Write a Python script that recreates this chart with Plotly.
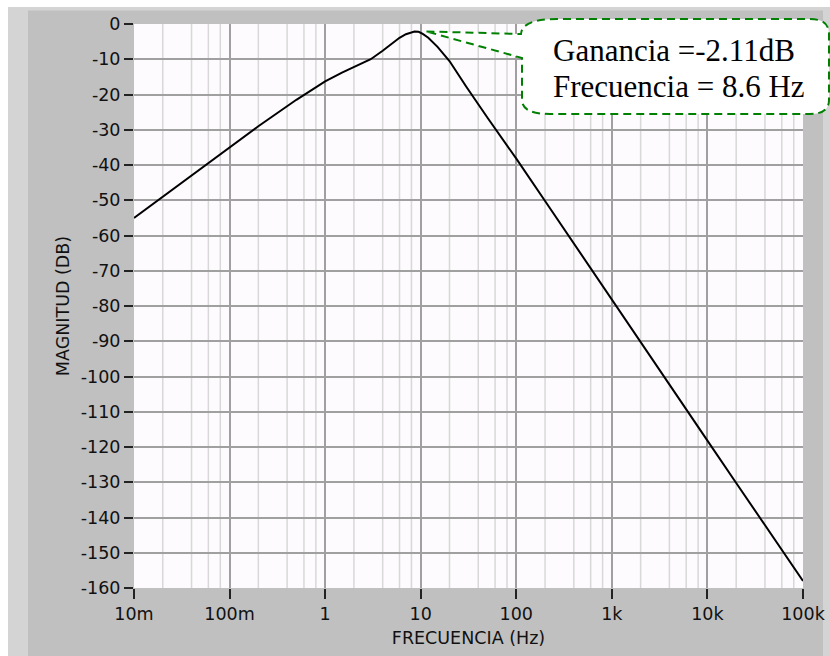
import math
import plotly.graph_objects as go

# ---- data ----
freq_hz = [0.01, 0.02, 0.05, 0.1, 0.2, 0.5, 1, 1.5, 2, 3,
           4, 5, 6, 7, 8, 8.6, 9.5, 10.5, 12, 15,
           20, 30, 50, 100, 200, 500, 1000, 2000, 5000, 10000,
           20000, 50000, 100000]
mag_db = [-55.0, -49.0, -41.0, -35.0, -29.0, -21.5, -16.3, -13.8, -12.2, -10.0,
          -7.6, -5.6, -3.9, -2.9, -2.25, -2.11, -2.2, -2.8, -3.9, -6.5,
          -10.5, -17.8, -26.6, -38.2, -50.2, -66.2, -78.2, -90.2, -106.2, -118.2,
          -130.2, -146.2, -158.0]

x_tick_vals = [0.01, 0.1, 1, 10, 100, 1000, 10000, 100000]
x_tick_text = ["10m", "100m", "1", "10", "100", "1k", "10k", "100k"]
y_tick_vals = [0, -10, -20, -30, -40, -50, -60, -70, -80, -90, -100,
               -110, -120, -130, -140, -150, -160]
y_tick_text = [str(v) for v in y_tick_vals]
minor_mults = [2, 4, 6, 8]

peak_freq = 8.6
peak_gain = -2.11

# ---- layout geometry ----
W, H = 830, 656
ML, MR, MT, MB = 134, 27, 24, 68
PW, PH = W - ML - MR, H - MT - MB
x_range = [math.log10(x_tick_vals[0]), math.log10(x_tick_vals[-1])]
y_range = [y_tick_vals[-1], y_tick_vals[0]]


def px(xp):
    return (xp - ML) / PW


def py(yp):
    return (H - MB - yp) / PH


def pt(xp, yp):
    return f"{px(xp):.5f},{py(yp):.5f}"


def xfrac(v):
    return (math.log10(v) - x_range[0]) / (x_range[1] - x_range[0])


minor_vals = [m * 10 ** e for e in range(-2, 5) for m in minor_mults]

fig = go.Figure()
fig.add_trace(go.Scatter(x=freq_hz, y=mag_db, mode="lines",
                         line=dict(color="black", width=2), showlegend=False))

font_ax = dict(family="DejaVu Sans", size=17.5, color="#111111")

fig.update_layout(
    width=W, height=H,
    margin=dict(l=ML, r=MR, t=MT, b=MB, autoexpand=False),
    paper_bgcolor="#c0c0c0",
    plot_bgcolor="#fdfbfd",
    showlegend=False,
    xaxis=dict(type="log", range=x_range, tickmode="array",
               tickvals=x_tick_vals, ticktext=x_tick_text,
               showgrid=True, gridcolor="#a0a0a0", gridwidth=1.5,
               ticks="outside", ticklen=10, tickwidth=1.5, tickcolor="#222222",
               tickfont=font_ax, zeroline=False, showline=False,
               title=dict(text="FRECUENCIA (Hz)", font=font_ax, standoff=8)),
    yaxis=dict(range=y_range, tickmode="array",
               tickvals=y_tick_vals, ticktext=y_tick_text,
               showgrid=True, gridcolor="#a0a0a0", gridwidth=1.5,
               ticks="outside", ticklen=9, tickwidth=1.5, tickcolor="#222222",
               tickfont=font_ax, zeroline=False, showline=False,
               title=dict(text="MAGNITUD (DB)", font=font_ax, standoff=6)),
)

# minor vertical grid (2, 4, 6, 8 of each decade), under the major grid
for v in minor_vals:
    f = xfrac(v)
    fig.add_shape(type="line", xref="paper", yref="paper",
                  x0=f, x1=f, y0=0, y1=1,
                  line=dict(color="#d8d8d8", width=1.5), layer="below")

# window frame strips (outside the plot area)
frame = [
    (0, 0, W, 7, "#ffffff"),
    (0, 0, 8, H, "#ffffff"),
    (8, 7, W, 10.5, "#d4d4d4"),
    (8, 7, 28, H, "#d4d4d4"),
    (823, 7, W, H, "#d4d4d4"),
]
for x0, y0, x1, y1, c in frame:
    fig.add_shape(type="rect", xref="paper", yref="paper",
                  x0=px(x0), x1=px(x1), y0=py(y0), y1=py(y1),
                  line=dict(width=0), fillcolor=c, layer="below")

# callout pointing at the peak
tip_x = ML + PW * xfrac(peak_freq) + 12
tip_y = MT + PH * (y_range[1] - peak_gain) / (y_range[1] - y_range[0])
path = ("M " + pt(tip_x, tip_y) + " L " + pt(521, 34) +
        " Q " + pt(522, 19) + " " + pt(557, 19) +
        " L " + pt(810, 19) +
        " Q " + pt(829, 19) + " " + pt(829, 34) +
        " L " + pt(829, 100) +
        " Q " + pt(829, 114) + " " + pt(810, 114) +
        " L " + pt(550, 114) +
        " Q " + pt(522, 114) + " " + pt(522, 100) +
        " L " + pt(522, 58) + " Z")
fig.add_shape(type="path", xref="paper", yref="paper", path=path,
              fillcolor="#ffffff", layer="above",
              line=dict(color="#008000", width=2, dash="8px,5px"))

font_call = dict(family="Liberation Serif", size=31, color="black")
fig.add_annotation(xref="paper", yref="paper", x=px(551), y=py(50),
                   xanchor="left", yanchor="middle", showarrow=False,
                   text=f"Ganancia ={peak_gain}dB", font=font_call)
fig.add_annotation(xref="paper", yref="paper", x=px(551), y=py(86),
                   xanchor="left", yanchor="middle", showarrow=False,
                   text=f"Frecuencia = {peak_freq} Hz", font=font_call)

fig.write_html("out.html")
